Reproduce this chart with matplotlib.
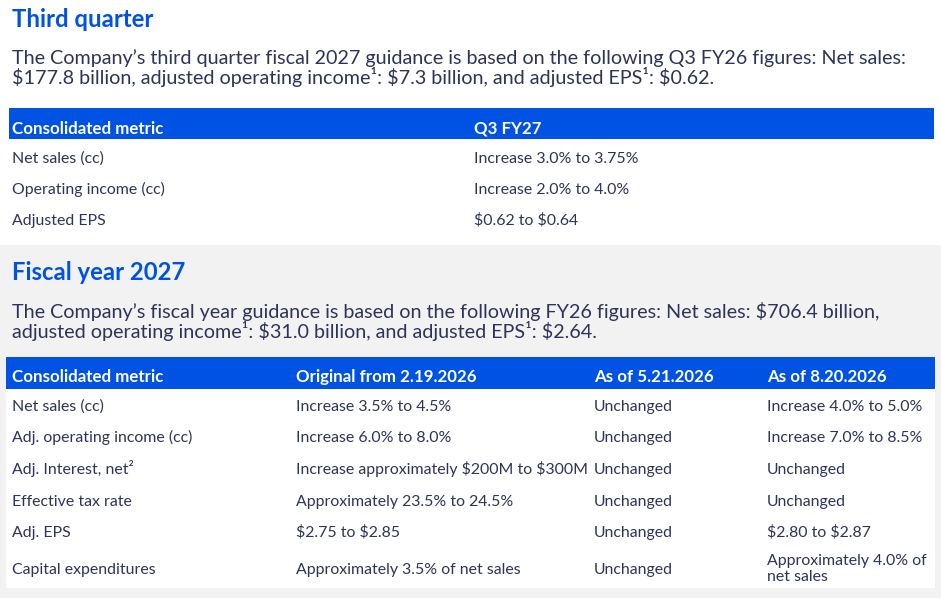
import matplotlib.pyplot as plt
from matplotlib.patches import Rectangle

# Dollar signs are plain text here, not mathtext
plt.rcParams['text.parse_math'] = False

# Colours used across the page
BLUE = '#0053e2'
INK = '#2f3359'
GRAY_BG = '#f2f2f2'
FONT = 'Lato'

# Third quarter section
q3_title = 'Third quarter'
q3_intro = ['The Company\u2019s third quarter fiscal 2027 guidance is based on the following Q3 FY26 figures: Net sales:',
            '$177.8 billion, adjusted operating income\u00b9: $7.3 billion, and adjusted EPS\u00b9: $0.62.']
q3_columns = ['Consolidated metric', 'Q3 FY27']
q3_metrics = ['Net sales (cc)', 'Operating income (cc)', 'Adjusted EPS']
q3_guidance = ['Increase 3.0% to 3.75%', 'Increase 2.0% to 4.0%', '$0.62 to $0.64']

# Fiscal year section
fy_title = 'Fiscal year 2027'
fy_intro = ['The Company\u2019s fiscal year guidance is based on the following FY26 figures: Net sales: $706.4 billion,',
            'adjusted operating income\u00b9: $31.0 billion, and adjusted EPS\u00b9: $2.64.']
fy_columns = ['Consolidated metric', 'Original from 2.19.2026', 'As of 5.21.2026', 'As of 8.20.2026']
fy_metrics = ['Net sales (cc)', 'Adj. operating income (cc)', 'Adj. Interest, net\u00b2',
              'Effective tax rate', 'Adj. EPS', 'Capital expenditures']
fy_original = ['Increase 3.5% to 4.5%', 'Increase 6.0% to 8.0%', 'Increase approximately $200M to $300M',
               'Approximately 23.5% to 24.5%', '$2.75 to $2.85', 'Approximately 3.5% of net sales']
fy_may = ['Unchanged'] * 6
fy_august = ['Increase 4.0% to 5.0%', 'Increase 7.0% to 8.5%', 'Unchanged',
             'Unchanged', '$2.80 to $2.87', 'Approximately 4.0% of\nnet sales']


def draw_table(ax, top, header_h, left, right, col_x, columns, header_base, rows_base, cells):
    '''Draw a blue header band with white header text and the body rows below it.'''
    ax.add_patch(Rectangle((left, top), right - left, header_h, color=BLUE, lw=0))
    for x, name in zip(col_x, columns):
        ax.text(x, header_base, name, color='white', fontsize=12.2,
                fontweight='bold', va='baseline', family=FONT)
    for x, column in zip(col_x, cells):
        for y, value in zip(rows_base, column):
            # wrapped cells: the last line sits a little below the row baseline
            n_extra = value.count('\n')
            ax.text(x, y + 7 * n_extra, value, color=INK, fontsize=11.4,
                    va='baseline', family=FONT, linespacing=1.15)


fig = plt.figure(figsize=(9.41, 5.98), dpi=100)
ax = fig.add_axes([0, 0, 1, 1])
ax.set_xlim(0, 941)
ax.set_ylim(598, 0)
ax.axis('off')

# Gray panel behind the fiscal year section
ax.add_patch(Rectangle((0, 245), 941, 353, color=GRAY_BG, lw=0))
ax.add_patch(Rectangle((6, 357), 929, 231, color='white', lw=0))

# Third quarter block
ax.text(12, 27, q3_title, color=BLUE, fontsize=17.2, fontweight='bold', va='baseline', family=FONT)
for y, line in zip([64, 84], q3_intro):
    ax.text(12, y, line, color=INK, fontsize=14.2, va='baseline', family=FONT)
draw_table(ax, 108, 31, 9, 934, [12, 474], q3_columns, 134, [163, 194, 225],
           [q3_metrics, q3_guidance])

# Fiscal year block
ax.text(12, 280, fy_title, color=BLUE, fontsize=17.2, fontweight='bold', va='baseline', family=FONT)
for y, line in zip([318, 338], fy_intro):
    ax.text(12, y, line, color=INK, fontsize=14.2, va='baseline', family=FONT)
draw_table(ax, 357, 32, 6, 935, [12, 296, 594, 767], fy_columns, 382,
           [411, 442, 474, 506, 537, 574],
           [fy_metrics, fy_original, fy_may, fy_august])

fig.savefig('out.png', dpi=100)
